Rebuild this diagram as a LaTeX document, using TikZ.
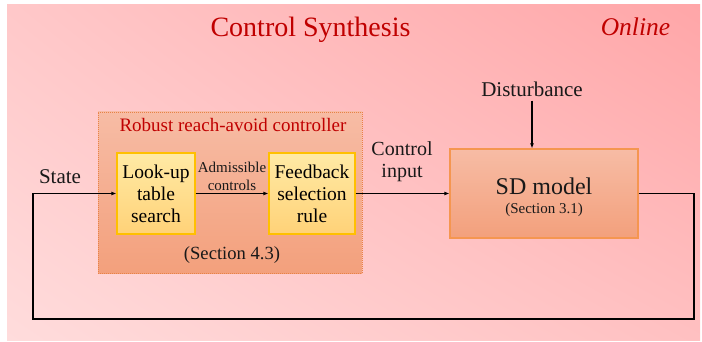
\documentclass[tikz,border=0pt]{standalone}
\usepackage{fontspec}
\setmainfont{Liberation Serif}
\usepackage{tikz}
\usetikzlibrary{arrows.meta,shadings}

\definecolor{synred}{RGB}{192,0,0}
\definecolor{bgtl}{RGB}{255,200,201}
\definecolor{bgtr}{RGB}{255,166,168}
\definecolor{bgbl}{RGB}{255,220,220}
\definecolor{bgbr}{RGB}{255,192,193}
\definecolor{ctrltop}{RGB}{247,188,165}
\definecolor{ctrlbot}{RGB}{243,160,124}
\definecolor{ctrledge}{RGB}{232,130,70}
\definecolor{yeltop}{RGB}{255,234,165}
\definecolor{yelbot}{RGB}{255,210,120}
\definecolor{yeledge}{RGB}{255,192,0}
\definecolor{sdedge}{RGB}{245,150,80}

\begin{document}
\begin{tikzpicture}[x=1pt,y=1pt]\tikzstyle{every node}+=[inner sep=0pt]
  \tikzstyle{flow}=[draw=black,line width=1.3pt,-{Latex[length=5pt,width=4pt]}]
  \tikzstyle{wire}=[draw=black,line width=1.3pt]
  \tikzstyle{txt}=[font=\fontsize{20}{22}\selectfont,align=center,text=black!90]
  \tikzstyle{small}=[font=\fontsize{15}{18}\selectfont,align=center,text=black!90]
  \tikzstyle{yelbox}=[rectangle,top color=yeltop,bottom color=yelbot,draw=yeledge,
    line width=1.2pt,minimum height=81pt,align=center,
    font=\fontsize{19.5}{22}\selectfont]
  \useasboundingbox (0,0) rectangle (702,-342);
  % background panel
  \shade[upper left=bgtl,upper right=bgtr,lower left=bgbl,lower right=bgbr] (7,-5) rectangle (700,-340);
  \node[text=synred,font=\fontsize{28}{30}\selectfont,anchor=base] (title) at (310.5,-37) {Control Synthesis};
  \node[text=synred,font=\fontsize{25.5}{28}\selectfont\itshape,anchor=base] (online) at (635.5,-36) {Online};

  % controller block
  \node[rectangle,top color=ctrltop,bottom color=ctrlbot,draw=ctrledge,line width=0.9pt,
    dash pattern=on 1pt off 1pt,minimum width=264pt,minimum height=161pt] (ctrl) at (230,-192.5) {};
  \node[text=synred,font=\fontsize{19}{21}\selectfont] (ctrlname) at (233,-125) {Robust reach-avoid controller};
  \node[txt,font=\fontsize{18.6}{21}\selectfont] (ctrlsec) at (232,-255) {(Section 4.3)};
  \node[yelbox,minimum width=78pt] (lookup) at (156,-193.5) {Look-up\\table\\search};
  \node[yelbox,minimum width=86pt] (select) at (312,-193.5) {Feedback\\selection\\rule};
  \draw[flow] (lookup.east) -- (select.west);
  \node[small] (adm) at (232,-176) {Admissible\\controls};

  % plant
  \node[rectangle,top color=ctrltop,bottom color=ctrlbot,draw=sdedge,line width=1.2pt,
    minimum width=188pt,minimum height=89pt] (sd) at (544,-193.5) {};
  \node[txt,font=\fontsize{24}{26}\selectfont] (sdname) at (544,-186) {SD model};
  \node[small] (sdsec) at (544,-210) {(Section 3.1)};
  \draw[flow] (select.east) -- (sd.west);
  \node[txt] (input) at (402,-162) {Control\\input};

  \node[txt,font=\fontsize{21}{23}\selectfont,inner sep=4pt] (dist) at (532,-89) {Disturbance};
  \draw[flow] (dist.south) -- (dist.south |- sd.north);

  % feedback loop
  \coordinate (loopR) at (694,-319);
  \coordinate (loopL) at (33,-319);
  \draw[wire] (sd.east) -| (loopR) -- (loopL) -- (loopL |- lookup.west);
  \draw[flow] (loopL |- lookup.west) -- (lookup.west);
  \node[txt,font=\fontsize{21}{23}\selectfont] (state) at (60,-177) {State};
\end{tikzpicture}
\end{document}
